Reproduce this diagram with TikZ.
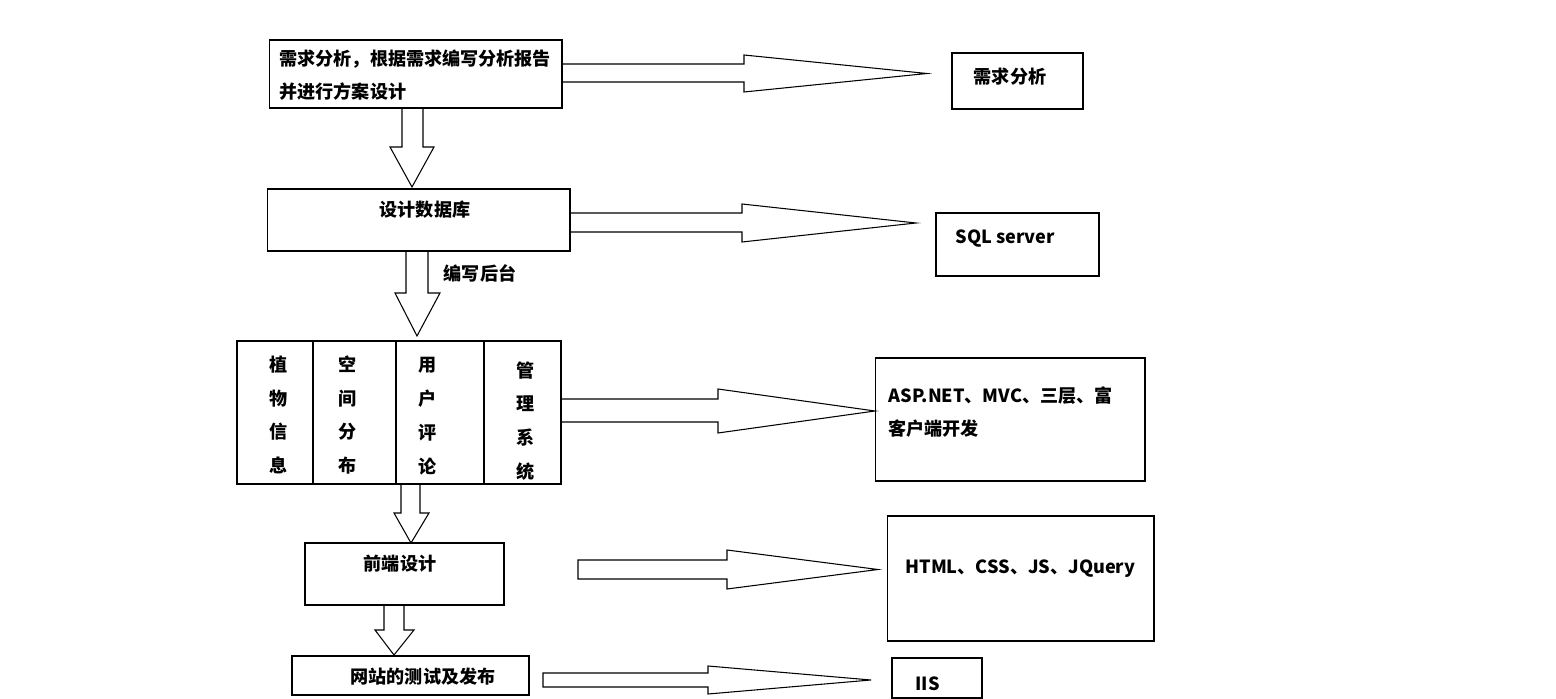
\documentclass[tikz,border=0pt]{standalone}
\usepackage{fontspec}
\setmainfont{Noto Sans CJK SC}

\begin{document}
\begin{tikzpicture}[
  x=0.02cm, y=-0.02cm,
  line width=0.6pt,
  bbox/.style={draw,rectangle,inner sep=0pt},
  txt/.style={inner sep=0pt,font=\fontsize{10.3}{19}\selectfont\bfseries},
  coltxt/.style={txt,align=center,font=\fontsize{10.3}{19.3}\selectfont\bfseries},
  blockarrow/.style={draw,line join=miter}
]
  \useasboundingbox (0,0) rectangle (1556,699);

  % process boxes
  \node[bbox,minimum width=5.86cm,minimum height=1.36cm] (req) at (415.5,74) {};
  \node[bbox,minimum width=6.06cm,minimum height=1.24cm] (db) at (418.5,220) {};
  \node[bbox,minimum width=1.52cm,minimum height=2.86cm] (col1) at (275,412.5) {};
  \node[bbox,minimum width=1.66cm,minimum height=2.86cm] (col2) at (354.5,412.5) {};
  \node[bbox,minimum width=1.76cm,minimum height=2.86cm] (col3) at (440,412.5) {};
  \node[bbox,minimum width=1.54cm,minimum height=2.86cm] (col4) at (522.5,412.5) {};
  \node[bbox,minimum width=3.98cm,minimum height=1.24cm] (fe) at (404.5,574) {};
  \node[bbox,minimum width=4.74cm,minimum height=0.78cm] (pub) at (410.5,675.5) {};

  % tool boxes
  \node[bbox,minimum width=2.62cm,minimum height=1.12cm] (reqtool) at (1017.5,81) {};
  \node[bbox,minimum width=3.26cm,minimum height=1.26cm] (sql) at (1017.5,244.5) {};
  \node[bbox,minimum width=5.4cm,minimum height=2.46cm] (asp) at (1010,419.5) {};
  \node[bbox,minimum width=5.34cm,minimum height=2.5cm] (html) at (1020.5,578.5) {};
  \node[bbox,minimum width=1.8cm,minimum height=0.8cm] (iis) at (937,678) {};

  % texts
  \node[txt,align=left,anchor=west] (reqtxt) at (279,75) {需求分析，根据需求编写分析报告\\并进行方案设计};
  \node[txt] (dbtxt) at (425,210) {设计数据库};
  \node[txt] (backtxt) at (480,273) {编写后台};
  \node[coltxt] (c1txt) at (279,415) {植\\物\\信\\息};
  \node[coltxt] (c2txt) at (348,415) {空\\间\\分\\布};
  \node[coltxt] (c3txt) at (428,416) {用\\户\\评\\论};
  \node[coltxt] (c4txt) at (526,421) {管\\理\\系\\统};
  \node[txt] (fetxt) at (400,564) {前端设计};
  \node[txt] (pubtxt) at (423,677) {网站的测试及发布};
  \node[txt] (reqtooltxt) at (1010,77) {需求分析};
  \node[txt,anchor=west] (sqltxt) at (955,239) {SQL server};
  \node[txt,align=left,anchor=west] (asptxt) at (888,412) {ASP.NET、MVC、三层、富\\客户端开发};
  \node[txt,anchor=west] (htmltxt) at (905,569) {HTML、CSS、JS、JQuery};
  \node[txt,anchor=west] (iistxt) at (915,684) {IIS};

  % down arrows
  \draw[blockarrow] (req.south -| 402,0) -- (402,147) -- (390,147) -- (412,187)
    -- (434,147) -- (423,147) -- (req.south -| 423,0);
  \draw[blockarrow] (db.south -| 406,0) -- (406,293) -- (395,293) -- (417,336)
    -- (440,293) -- (428,293) -- (db.south -| 428,0);
  \draw[blockarrow] (col3.south -| 401,0) -- (401,513) -- (394,513) -- (411,543)
    -- (429,513) -- (420,513) -- (col3.south -| 420,0);
  \draw[blockarrow] (fe.south -| 384,0) -- (384,630) -- (375,630) -- (394,655)
    -- (414,630) -- (404,630) -- (fe.south -| 404,0);

  % right arrows
  \draw[blockarrow] (req.east |- 0,64) -- (744,64) -- (744,55) -- (927,73.5)
    -- (744,92) -- (744,82) -- (req.east |- 0,82);
  \draw[blockarrow] (db.east |- 0,213) -- (742,213) -- (742,204) -- (916,223)
    -- (742,242) -- (742,232) -- (db.east |- 0,232);
  \draw[blockarrow] (col4.east |- 0,399) -- (718,399) -- (718,389) -- (875,411)
    -- (718,433) -- (718,422) -- (col4.east |- 0,422);
  \draw[blockarrow] (578,560) -- (727,560) -- (727,550) -- (878,569.5)
    -- (727,589) -- (727,579) -- (578,579) -- cycle;
  \draw[blockarrow] (543,673) -- (708,673) -- (708,666) -- (871,680)
    -- (708,694) -- (708,687) -- (543,687) -- cycle;

\end{tikzpicture}
\end{document}
